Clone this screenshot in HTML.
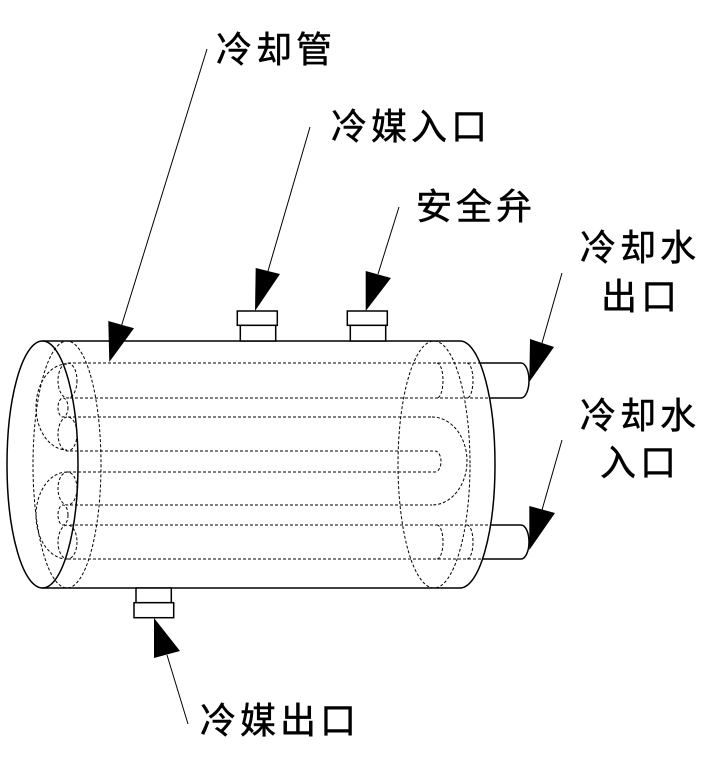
<!DOCTYPE html>
<html>
<head>
<meta charset="utf-8">
<style>
html,body{margin:0;padding:0;background:#fff;}
svg{display:block;}
text{font-family:"Liberation Sans","Noto Sans CJK SC","WenQuanYi Zen Hei",sans-serif;font-size:36px;fill:#000;stroke:#000;stroke-width:0.5px;}
</style>
</head>
<body>
<svg width="723" height="772" viewBox="0 0 723 772" xmlns="http://www.w3.org/2000/svg">
<rect width="723" height="772" fill="#fff"/>

<!-- dashed internals -->
<g fill="none" stroke="#000" stroke-width="1" stroke-dasharray="3 2">
  <ellipse cx="67" cy="464.5" rx="34" ry="123.5"/>
  <ellipse cx="434" cy="464.5" rx="36" ry="123.5"/>
  <line x1="68" y1="363" x2="480" y2="363"/>
  <line x1="70" y1="398" x2="489" y2="398"/>
  <line x1="68" y1="417" x2="432" y2="417"/>
  <line x1="70" y1="451" x2="435" y2="451"/>
  <line x1="68" y1="472" x2="435" y2="472"/>
  <line x1="70" y1="505" x2="432" y2="505"/>
  <line x1="70" y1="525" x2="490" y2="525"/>
  <line x1="68" y1="559" x2="482" y2="559"/>
  <!-- left tube ends -->
  <ellipse cx="67.5" cy="380.5" rx="9.5" ry="17.5"/>
  <ellipse cx="67.5" cy="434" rx="9.5" ry="17"/>
  <ellipse cx="67.5" cy="488.5" rx="9.5" ry="16.5"/>
  <ellipse cx="67.5" cy="542" rx="9.5" ry="17"/>
  <ellipse cx="63" cy="407.5" rx="5" ry="9.5"/>
  <ellipse cx="63" cy="515" rx="5" ry="10"/>
  <!-- left U-bends -->
  <path d="M67,364 A31,43 0 0 0 67,450"/>
  <path d="M67,472 A31,43.5 0 0 0 67,559"/>
  <!-- right U-bends -->
  <path d="M432,417 A35,44 0 0 1 432,505"/>
  <path d="M435,451 A6,10.5 0 0 1 435,472"/>
  <!-- right small arcs -->
  <path d="M437,363 A6,17.5 0 0 1 437,398"/>
  <path d="M467,363 A6,17.5 0 0 1 467,398"/>
  <path d="M437,525 A6,17 0 0 1 437,559"/>
  <path d="M467,525 A6,17 0 0 1 467,559"/>
</g>

<!-- solid shell -->
<g fill="none" stroke="#000" stroke-width="1.5">
  <ellipse cx="42.5" cy="464.5" rx="35.5" ry="123.5"/>
  <line x1="42.5" y1="341" x2="460" y2="341"/>
  <line x1="42.5" y1="588" x2="460" y2="588"/>
  <path d="M460,341 A35,123.5 0 0 1 460,588"/>
  <!-- right pipes -->
  <path d="M480,363 H521 A8,17.5 0 0 1 521,398 H489"/>
  <path d="M490,525 H521 A8,17 0 0 1 521,559 H482"/>
</g>

<!-- fittings -->
<g fill="#fff" stroke="#000" stroke-width="1.5">
  <rect x="240.3" y="325.3" width="35.4" height="15.7"/>
  <rect x="237.3" y="311" width="40" height="14.3"/>
  <rect x="350.3" y="325.3" width="35.4" height="15.7"/>
  <rect x="347.3" y="311" width="40" height="14.3"/>
  <rect x="136" y="588" width="35.3" height="14.7"/>
  <rect x="134" y="602.7" width="39.7" height="15"/>
</g>

<!-- leader lines -->
<g stroke="#000" stroke-width="1" fill="none">
  <line x1="207" y1="49" x2="121.7" y2="325"/>
  <line x1="310" y1="127" x2="268" y2="271"/>
  <line x1="399" y1="207" x2="378" y2="274"/>
  <line x1="562" y1="273" x2="542" y2="343"/>
  <line x1="562" y1="440" x2="542" y2="510"/>
  <line x1="188" y1="724" x2="167" y2="655"/>
</g>

<!-- arrowheads -->
<g fill="#000" stroke="none">
  <polygon points="108.3,321 134,328.3 109.3,362"/>
  <polygon points="255.7,268 280,274 255,311"/>
  <polygon points="365.7,271 391,278 365.7,311"/>
  <polygon points="530,339 554,347 529.3,382"/>
  <polygon points="529.3,506 555,513 529.3,550"/>
  <polygon points="154,658 180,651 154,618"/>
</g>

<!-- labels -->
<text x="216 256 296" y="62">冷却管</text>
<text x="331 371 411 451" y="139">冷媒入口</text>
<text x="416 456 496" y="219">安全弁</text>
<text x="580 620 660" y="260">冷却水</text>
<text x="601 641" y="309">出口</text>
<text x="580 620 660" y="428">冷却水</text>
<text x="600 640" y="475">入口</text>
<text x="200 240 280 320" y="733">冷媒出口</text>
</svg>
</body>
</html>
